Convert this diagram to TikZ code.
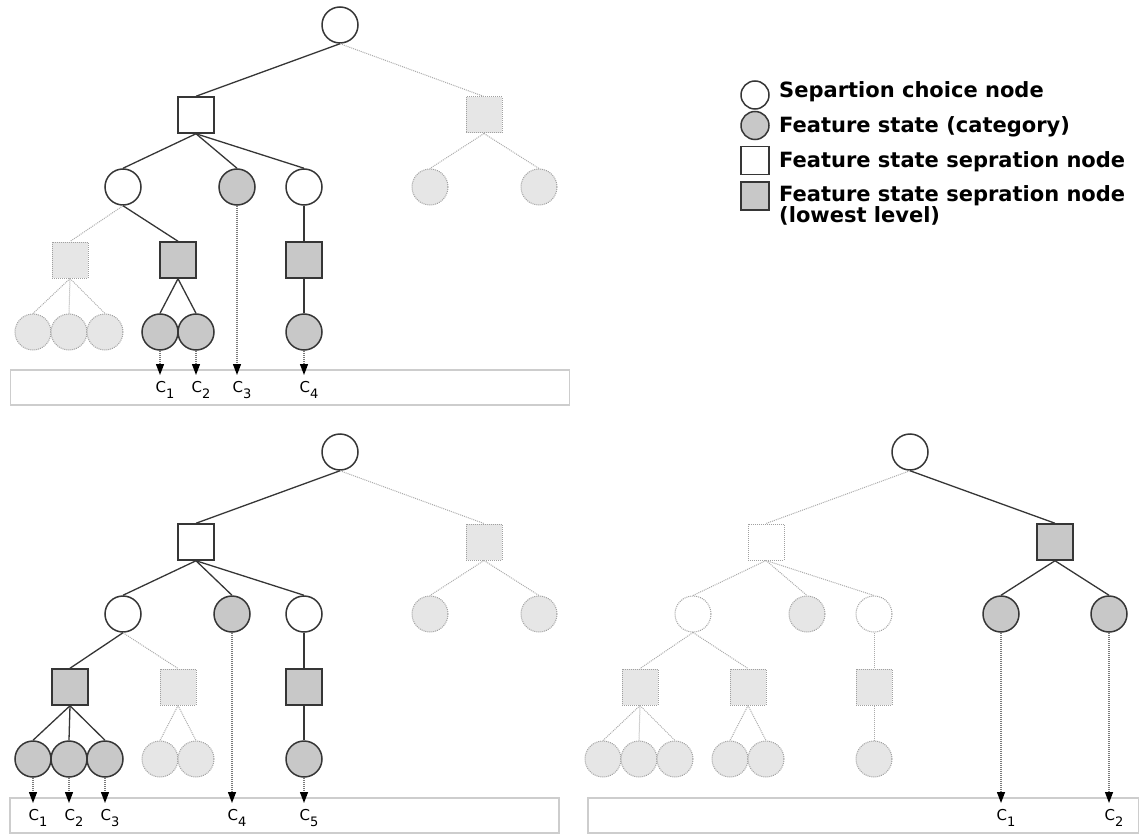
\documentclass[tikz,border=0pt]{standalone}
\usepackage{fontspec}
\setmainfont{DejaVu Sans}
\usetikzlibrary{arrows.meta}
\definecolor{linedark}{HTML}{363636}
\definecolor{catfill}{HTML}{C8C8C8}
\definecolor{fadefill}{HTML}{E6E6E6}
\definecolor{fadeline}{HTML}{A0A0A0}
\definecolor{fadeedge}{HTML}{ABABAB}
\definecolor{arrowline}{HTML}{7A7A7A}
\definecolor{binline}{HTML}{CDCDCD}
\tikzset{
  choice/.style={circle, draw=linedark, line width=1.5pt, fill=white, minimum size=36pt, inner sep=0pt},
  cat/.style={choice, fill=catfill},
  sepbox/.style={rectangle, draw=linedark, line width=1.5pt, fill=white, minimum size=36pt, inner sep=0pt},
  lowbox/.style={sepbox, fill=catfill},
  faded/.style={draw=fadeline, dash pattern=on 1pt off 1pt, line width=1pt, fill=fadefill},
  fadedwhite/.style={faded, fill=white},
  taken/.style={draw=linedark, line width=1.3pt},
  fadededge/.style={draw=fadeedge, dash pattern=on 1pt off 1pt, line width=1pt},
  tocat/.style={draw=arrowline, dash pattern=on 1pt off 1pt, line width=1.3pt, -{Triangle[length=11pt,width=8pt,color=black]}},
  bin/.style={rectangle, draw=binline, line width=1.5pt, anchor=north west, inner sep=0pt, minimum height=35pt},
  clabel/.style={anchor=north west, inner sep=0pt, xshift=-5pt, yshift=-6pt, font=\fontsize{15}{15}\selectfont},
  legtext/.style={anchor=north west, inner sep=0pt, align=left, font=\bfseries\fontsize{21}{20}\selectfont},
}
\newcommand{\cidx}[1]{C\raisebox{-6pt}{\fontsize{13}{13}\selectfont #1}}

\begin{document}
\begin{tikzpicture}[x=1pt, y=-1pt]
\useasboundingbox (0,0) rectangle (1139,834);

\begin{scope}[shift={(340,25)}]
\node[choice] (aroot) at (0,0) {};
\node[sepbox] (asl) at (-144,90) {};
\node[sepbox, faded] (asr) at (144,90) {};
\node[choice] (al2a) at (-217,162) {};
\node[cat] (al2b) at (-103,162) {};
\node[choice] (al2c) at (-36,162) {};
\node[cat, faded] (al2d) at (90,162) {};
\node[cat, faded] (al2e) at (199,162) {};
\node[sepbox, faded] (al3a) at (-270,235) {};
\node[lowbox] (al3b) at (-162,235) {};
\node[lowbox] (al3c) at (-36,235) {};
\node[cat, faded] (al4a) at (-307,307) {};
\node[cat, faded] (al4b) at (-271,307) {};
\node[cat, faded] (al4c) at (-235,307) {};
\node[cat] (al4d) at (-180,307) {};
\node[cat] (al4e) at (-144,307) {};
\node[cat] (al4f) at (-36,307) {};
\end{scope}
\node[bin, minimum width=559pt] (abin) at (9.5,369) {};

\draw[taken] (aroot.south) -- (asl.north);
\draw[fadededge] (aroot.south) -- (asr.north);
\draw[taken] (asl.south) -- (al2a.north);
\draw[taken] (asl.south) -- (al2b.north);
\draw[taken] (asl.south) -- (al2c.north);
\draw[fadededge] (asr.south) -- (al2d.north);
\draw[fadededge] (asr.south) -- (al2e.north);
\draw[fadededge] (al2a.south) -- (al3a.north);
\draw[taken] (al2a.south) -- (al3b.north);
\draw[taken] (al2c) -- (al3c);
\draw[fadededge] (al3a.south) -- (al4a.north);
\draw[fadededge] (al3a.south) -- (al4b.north);
\draw[fadededge] (al3a.south) -- (al4c.north);
\draw[taken] (al3b.south) -- (al4d.north);
\draw[taken] (al3b.south) -- (al4e.north);
\draw[taken] (al3c) -- (al4f);
\draw[tocat] (al4d) -- ([yshift=-6pt]al4d |- abin.north) node[clabel] {\cidx{1}};
\draw[tocat] (al4e) -- ([yshift=-6pt]al4e |- abin.north) node[clabel] {\cidx{2}};
\draw[tocat] (al2b) -- ([yshift=-6pt]al2b |- abin.north) node[clabel] {\cidx{3}};
\draw[tocat] (al4f) -- ([yshift=-6pt]al4f |- abin.north) node[clabel] {\cidx{4}};

\begin{scope}[shift={(340,452)}]
\node[choice] (broot) at (0,0) {};
\node[sepbox] (bsl) at (-144,90) {};
\node[sepbox, faded] (bsr) at (144,90) {};
\node[choice] (bl2a) at (-217,162) {};
\node[cat] (bl2b) at (-108,162) {};
\node[choice] (bl2c) at (-36,162) {};
\node[cat, faded] (bl2d) at (90,162) {};
\node[cat, faded] (bl2e) at (199,162) {};
\node[lowbox] (bl3a) at (-270,235) {};
\node[sepbox, faded] (bl3b) at (-162,235) {};
\node[lowbox] (bl3c) at (-36,235) {};
\node[cat] (bl4a) at (-307,307) {};
\node[cat] (bl4b) at (-271,307) {};
\node[cat] (bl4c) at (-235,307) {};
\node[cat, faded] (bl4d) at (-180,307) {};
\node[cat, faded] (bl4e) at (-144,307) {};
\node[cat] (bl4f) at (-36,307) {};
\end{scope}
\node[bin, minimum width=549pt] (bbin) at (9,797) {};

\draw[taken] (broot.south) -- (bsl.north);
\draw[fadededge] (broot.south) -- (bsr.north);
\draw[taken] (bsl.south) -- (bl2a.north);
\draw[taken] (bsl.south) -- (bl2b.north);
\draw[taken] (bsl.south) -- (bl2c.north);
\draw[fadededge] (bsr.south) -- (bl2d.north);
\draw[fadededge] (bsr.south) -- (bl2e.north);
\draw[taken] (bl2a.south) -- (bl3a.north);
\draw[fadededge] (bl2a.south) -- (bl3b.north);
\draw[taken] (bl2c) -- (bl3c);
\draw[taken] (bl3a.south) -- (bl4a.north);
\draw[taken] (bl3a.south) -- (bl4b.north);
\draw[taken] (bl3a.south) -- (bl4c.north);
\draw[fadededge] (bl3b.south) -- (bl4d.north);
\draw[fadededge] (bl3b.south) -- (bl4e.north);
\draw[taken] (bl3c) -- (bl4f);
\draw[tocat] (bl4a) -- ([yshift=-6pt]bl4a |- bbin.north) node[clabel] {\cidx{1}};
\draw[tocat] (bl4b) -- ([yshift=-6pt]bl4b |- bbin.north) node[clabel] {\cidx{2}};
\draw[tocat] (bl4c) -- ([yshift=-6pt]bl4c |- bbin.north) node[clabel] {\cidx{3}};
\draw[tocat] (bl2b) -- ([yshift=-6pt]bl2b |- bbin.north) node[clabel] {\cidx{4}};
\draw[tocat] (bl4f) -- ([yshift=-6pt]bl4f |- bbin.north) node[clabel] {\cidx{5}};

\begin{scope}[shift={(910,452)}]
\node[choice] (croot) at (0,0) {};
\node[sepbox, fadedwhite] (csl) at (-144,90) {};
\node[lowbox] (csr) at (145,90) {};
\node[choice, fadedwhite] (cl2a) at (-217,162) {};
\node[cat, faded] (cl2b) at (-103,162) {};
\node[choice, fadedwhite] (cl2c) at (-36,162) {};
\node[cat] (cl2d) at (91,162) {};
\node[cat] (cl2e) at (199,162) {};
\node[sepbox, faded] (cl3a) at (-270,235) {};
\node[sepbox, faded] (cl3b) at (-162,235) {};
\node[sepbox, faded] (cl3c) at (-36,235) {};
\node[cat, faded] (cl4a) at (-307,307) {};
\node[cat, faded] (cl4b) at (-271,307) {};
\node[cat, faded] (cl4c) at (-235,307) {};
\node[cat, faded] (cl4d) at (-180,307) {};
\node[cat, faded] (cl4e) at (-144,307) {};
\node[cat, faded] (cl4f) at (-36,307) {};
\end{scope}
\node[bin, minimum width=551pt] (cbin) at (587,797) {};

\draw[fadededge] (croot.south) -- (csl.north);
\draw[taken] (croot.south) -- (csr.north);
\draw[fadededge] (csl.south) -- (cl2a.north);
\draw[fadededge] (csl.south) -- (cl2b.north);
\draw[fadededge] (csl.south) -- (cl2c.north);
\draw[taken] (csr.south) -- (cl2d.north);
\draw[taken] (csr.south) -- (cl2e.north);
\draw[fadededge] (cl2a.south) -- (cl3a.north);
\draw[fadededge] (cl2a.south) -- (cl3b.north);
\draw[fadededge] (cl2c) -- (cl3c);
\draw[fadededge] (cl3a.south) -- (cl4a.north);
\draw[fadededge] (cl3a.south) -- (cl4b.north);
\draw[fadededge] (cl3a.south) -- (cl4c.north);
\draw[fadededge] (cl3b.south) -- (cl4d.north);
\draw[fadededge] (cl3b.south) -- (cl4e.north);
\draw[fadededge] (cl3c) -- (cl4f);
\draw[tocat] (cl2d) -- ([yshift=-6pt]cl2d |- cbin.north) node[clabel] {\cidx{1}};
\draw[tocat] (cl2e) -- ([yshift=-6pt]cl2e |- cbin.north) node[clabel] {\cidx{2}};

\node[choice, minimum size=28pt] (kchoice) at (755,95) {};
\node[cat, minimum size=28pt] (kcat) at (755,125.5) {};
\node[sepbox, minimum size=28pt] (ksep) at (755,160.5) {};
\node[lowbox, minimum size=28pt] (klow) at (755,196) {};
\node[legtext] (tchoice) at (779,81) {Separtion choice node};
\node[legtext] (tcat) at (779,116) {Feature state (category)};
\node[legtext] (tsep) at (779,151) {Feature state sepration node};
\node[legtext] (tlow) at (779,185) {Feature state sepration node\\(lowest level)};
\end{tikzpicture}
\end{document}
